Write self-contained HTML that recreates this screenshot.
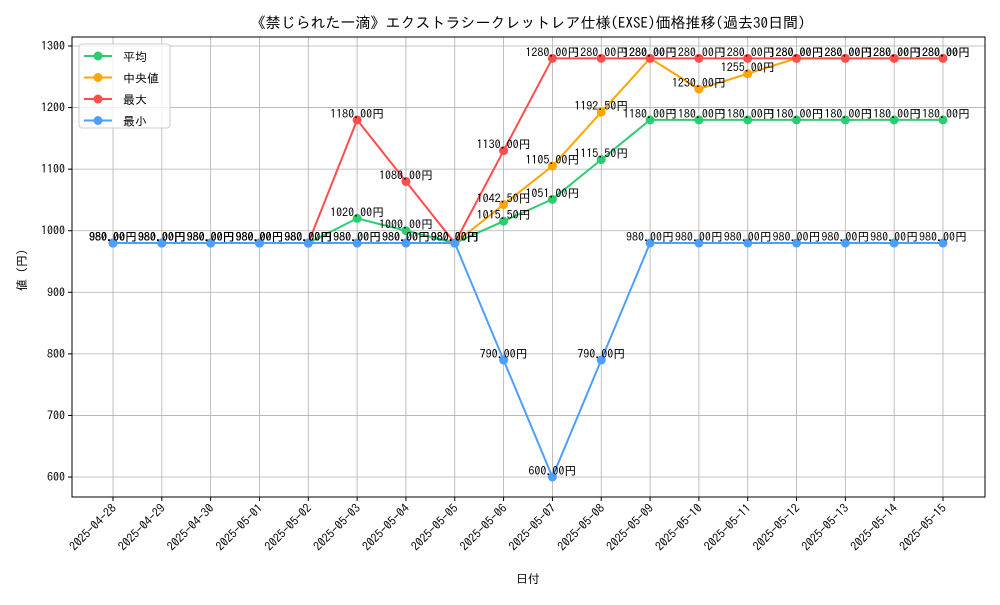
<!DOCTYPE html>
<html><head><meta charset="utf-8"><style>
body{margin:0;background:#fff}
svg text{font-family:"IPAGothic","Noto Sans CJK JP",sans-serif;fill:#000}
</style></head><body>
<svg id="chart" width="1000" height="600" xmlns="http://www.w3.org/2000/svg">
<text x="528" y="28" font-size="15" text-anchor="middle">《禁じられた一滴》エクストラシークレットレア仕様(EXSE)価格推移(過去30日間)</text>
<text x="528" y="583" font-size="12" text-anchor="middle">日付</text>
<text x="26" y="270" font-size="12" text-anchor="middle" transform="rotate(-90 26 270)">値 (円)</text>
<g id="grid"></g><g id="series"></g><g id="axes"></g>
<g>
<rect x="79" y="44" width="91" height="84" rx="3" fill="#fff" fill-opacity="0.8" stroke="#ccc"/>
<g id="legend"></g></g>
</svg>
<script>
const dates=["2025-04-28","2025-04-29","2025-04-30","2025-05-01","2025-05-02","2025-05-03","2025-05-04","2025-05-05","2025-05-06","2025-05-07","2025-05-08","2025-05-09","2025-05-10","2025-05-11","2025-05-12","2025-05-13","2025-05-14","2025-05-15"];
const avgVals=[980,980,980,980,980,1020,1000,980,1015.5,1051,1115.5,1180,1180,1180,1180,1180,1180,1180];
const medianVals=[980,980,980,980,980,980,980,980,1042.5,1105,1192.5,1280,1230,1255,1280,1280,1280,1280];
const maxVals=[980,980,980,980,980,1180,1080,980,1130,1280,1280,1280,1280,1280,1280,1280,1280,1280];
const minVals=[980,980,980,980,980,980,980,980,790,600,790,980,980,980,980,980,980,980];
const yTicks=[600,700,800,900,1000,1100,1200,1300];
const seriesNames=["平均","中央値","最大","最小"];
const NS="http://www.w3.org/2000/svg";
const L=72,R=985,T=37,B=497;
const xs=i=>113+i*(943-113)/(dates.length-1);
const ys=v=>477-(v-600)*(477-46)/700;
function mk(t,a,p){const e=document.createElementNS(NS,t);for(const k in a)e.setAttribute(k,a[k]);p.appendChild(e);return e;}
const grid=document.getElementById('grid'),axes=document.getElementById('axes'),ser=document.getElementById('series'),leg=document.getElementById('legend');
yTicks.forEach(v=>{
 const g=mk('line',{x1:L,x2:R,y1:ys(v),y2:ys(v),stroke:'#b0b0b0','stroke-width':0.8},grid);
 
 
 mk('line',{x1:L-4,x2:L,y1:ys(v),y2:ys(v),stroke:'#000'},axes);
 const t=mk('text',{x:L-7,y:ys(v)+4,'font-size':12,'text-anchor':'end'},axes);t.textContent=v;
 
 
});
dates.forEach((d,i)=>{
 const g=mk('line',{x1:xs(i),x2:xs(i),y1:T,y2:B,stroke:'#b0b0b0','stroke-width':0.8},grid);
 
 
 mk('line',{x1:xs(i),x2:xs(i),y1:B,y2:B+4,stroke:'#000'},axes);
 const t=mk('text',{x:xs(i)+4,y:B+12,'font-size':12,'text-anchor':'end',transform:`rotate(-45 ${xs(i)+4} ${B+12})`},axes);t.textContent=d;
 
 
});
mk('rect',{x:L,y:T,width:R-L,height:B-T,fill:'none',stroke:'#000','stroke-width':1},axes);
const all=[[avgVals,'#2ecc71'],[medianVals,'#ffa500'],[maxVals,'#ff4d4d'],[minVals,'#4d9fff']];
all.forEach(([vals,c],si)=>{
 const g=mk('g',{},ser);
 
 
 mk('polyline',{points:vals.map((v,i)=>xs(i)+','+ys(v)).join(' '),fill:'none',stroke:c,'stroke-width':2},g);
 vals.forEach((v,i)=>{
  const p=mk('circle',{cx:xs(i),cy:ys(v),r:4.5,fill:c},g);
  
  
 });
});
all.forEach(([vals,c],si)=>{
 vals.forEach((v,i)=>{
  const t=mk('text',{x:xs(i),y:ys(v)-2,'font-size':12,'text-anchor':'middle'},ser);
  t.textContent=v.toFixed(2)+'円';
  
  
 });
});
seriesNames.forEach((n,i)=>{
 const y=56+i*21.5,c=all[i][1];
 const g=mk('g',{},leg);
 
 
 mk('line',{x1:84,x2:112,y1:y,y2:y,stroke:c,'stroke-width':2},g);
 mk('circle',{cx:98,cy:y,r:4.5,fill:c},g);
 const t=mk('text',{x:123,y:y+5,'font-size':12},g);t.textContent=n;
});
</script>
</body></html>
